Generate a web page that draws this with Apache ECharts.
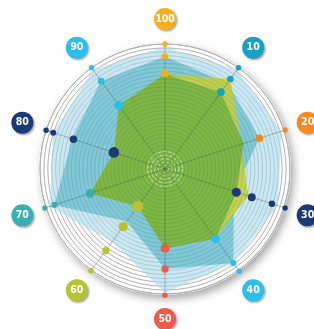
<!DOCTYPE html>
<html>
<head>
<meta charset="utf-8">
<script src="https://cdn.jsdelivr.net/npm/echarts@6/dist/echarts.min.js"></script>
<style>
html, body { margin: 0; padding: 0; background: #fff; }
#main { width: 314px; height: 329px; }
</style>
</head>
<body>
<div id="main"></div>
<script>
// axes, clockwise from the top
var axisNames = ['100', '10', '20', '30', '40', '50', '60', '70', '80', '90'];
var axisColors = ['#f7b01b', '#16a0c4', '#f5891f', '#1b3a76', '#2bbfee', '#ee5a4c', '#b7c331', '#3aafb3', '#1b3a76', '#2bbfee'];

// filled shapes, same axis order
var blueArea = [98, 98, 98, 95, 93, 99, 72, 97, 94, 98];
var tealArea = [90, 85, 79.5, 58, 93, 80, 52, 93, 78, 87];
var limeArea = [76, 89, 64, 70, 68, 63.5, 37, 63, 43, 63];
var greenArea = [76, 76, 66, 60, 69, 63.5, 37, 63, 43, 63];

// dots sitting on each axis
var dotValues = [
    [100, 90, 76.5],
    [100, 89, 76],
    [101, 79.5],
    [101, 90, 73, 60],
    [101, 93, 69],
    [101, 80, 63.5],
    [100.6, 80.6, 57, 37],
    [101, 93, 63],
    [100, 94, 77, 43],
    [100, 87, 63]
];

(function () {
    var myChart = echarts.init(document.getElementById('main'));
    var center = [165, 169];
    var step = 360 / axisNames.length;
    var font = '"Liberation Sans Narrow", "DejaVu Sans Condensed", sans-serif';

    // radar lays indicators out counter-clockwise
    var ccw = [0];
    for (var i = axisNames.length - 1; i > 0; i--) ccw.push(i);
    function toRadar(arr) {
        return ccw.map(function (k) { return arr[k]; });
    }

    var dots = [];
    dotValues.forEach(function (list, i) {
        list.forEach(function (v) {
            dots.push({ value: [v, i * step], itemStyle: { color: axisColors[i] } });
        });
    });
    var labels = axisNames.map(function (n, i) {
        return { name: n, value: [120, i * step], itemStyle: { color: axisColors[i] } };
    });

    function area(vals, color, opacity) {
        return {
            value: toRadar(vals),
            symbol: 'none',
            lineStyle: { width: 0 },
            areaStyle: { color: color, opacity: opacity }
        };
    }

    var option = {
        animation: false,
        radar: {
            center: center,
            radius: 125,
            startAngle: 90,
            shape: 'circle',
            splitNumber: 32,
            z: 1,
            indicator: ccw.map(function (k) { return { name: axisNames[k], max: 100, min: 0 }; }),
            axisName: { show: false },
            axisLine: { show: false },
            splitArea: { show: false },
            splitLine: { lineStyle: { color: '#c4c4c4', width: 1 } }
        },
        polar: [
            { center: center, radius: 125 },
            { center: center, radius: 150 },
            { center: center, radius: 17.5 }
        ],
        angleAxis: [
            {
                polarIndex: 0, type: 'value', min: 0, max: 360, interval: step,
                startAngle: 90, clockwise: true, z: 5,
                axisLine: { show: true, lineStyle: { color: '#b0b0b0', width: 1 } },
                axisTick: { show: false }, axisLabel: { show: false },
                splitLine: { show: true, lineStyle: { color: 'rgba(70,70,70,0.45)', width: 0.8 } }
            },
            {
                polarIndex: 1, type: 'value', min: 0, max: 360, startAngle: 90, clockwise: true,
                axisLine: { show: false }, axisTick: { show: false }, axisLabel: { show: false }, splitLine: { show: false }
            },
            {
                polarIndex: 2, type: 'value', min: 0, max: 360, startAngle: 90, clockwise: true,
                axisLine: { show: false }, axisTick: { show: false }, axisLabel: { show: false }, splitLine: { show: false }
            }
        ],
        radiusAxis: [
            {
                polarIndex: 0, min: 0, max: 100, interval: 3.125, z: 5,
                axisLine: { show: false }, axisTick: { show: false }, axisLabel: { show: false },
                splitLine: { show: true, lineStyle: { color: 'rgba(0,0,0,0.09)', width: 1 } }
            },
            {
                polarIndex: 1, min: 0, max: 120,
                axisLine: { show: false }, axisTick: { show: false }, axisLabel: { show: false }, splitLine: { show: false }
            },
            {
                polarIndex: 2, min: 0, max: 5, interval: 1, z: 5,
                axisLine: { show: false }, axisTick: { show: false }, axisLabel: { show: false },
                splitLine: { show: true, lineStyle: { color: 'rgba(255,255,255,0.6)', width: 1, type: [3, 2] } }
            }
        ],
        series: [
            {
                type: 'pie',
                center: center,
                radius: [0, 126],
                z: 0,
                silent: true,
                label: { show: false },
                emphasis: { disabled: true },
                itemStyle: {
                    color: '#fff',
                    shadowBlur: 8,
                    shadowOffsetX: 3,
                    shadowOffsetY: 4,
                    shadowColor: 'rgba(0,0,0,0.35)'
                },
                data: [{ value: 1, name: 'disk' }]
            },
            {
                type: 'radar',
                z: 2,
                silent: true,
                data: [
                    area(blueArea, '#bde2f0', 0.8),
                    area(tealArea, '#62bccb', 0.7),
                    area(limeArea, '#c3cf44', 0.92),
                    area(greenArea, '#78b546', 0.93)
                ]
            },
            {
                type: 'scatter',
                coordinateSystem: 'polar',
                polarIndex: 1,
                clip: false,
                z: 6,
                silent: true,
                itemStyle: { opacity: 1 },
                symbolSize: function (val) {
                    return 14.5 - 0.09 * val[0];
                },
                data: dots
            },
            {
                type: 'scatter',
                coordinateSystem: 'polar',
                polarIndex: 1,
                clip: false,
                z: 6,
                silent: true,
                symbolSize: 22,
                itemStyle: {
                    opacity: 1,
                    shadowBlur: 2,
                    shadowOffsetX: 1.5,
                    shadowOffsetY: 1.5,
                    shadowColor: 'rgba(0,0,0,0.35)'
                },
                label: {
                    show: true,
                    position: 'inside',
                    formatter: '{b}',
                    color: '#fff',
                    fontSize: 10.5,
                    fontWeight: 'bold',
                    fontFamily: font
                },
                data: labels
            }
        ]
    };
    myChart.setOption(option);
    window.addEventListener('resize', function () {
        myChart.resize();
    });
})();
</script>
</body>
</html>
